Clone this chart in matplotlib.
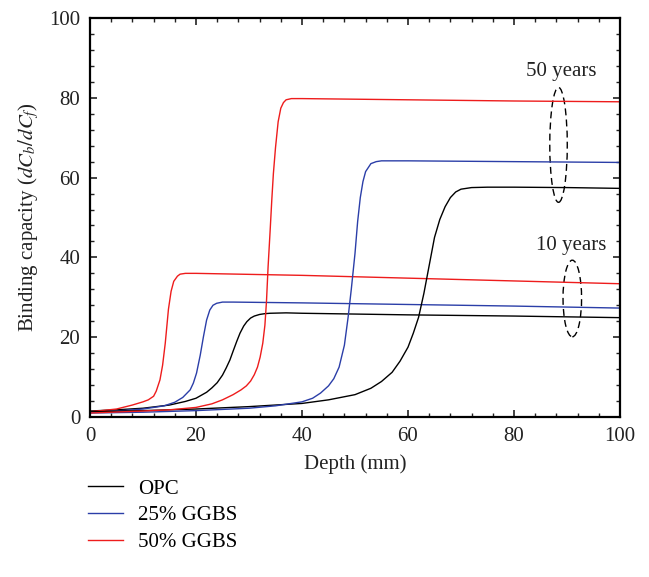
import matplotlib
matplotlib.use("Agg")
import matplotlib.pyplot as plt
from matplotlib.patches import Ellipse
from matplotlib.ticker import MultipleLocator

plt.rcParams['font.family'] = ['Liberation Serif', 'DejaVu Serif']
plt.rcParams['mathtext.fontset'] = 'stix'
plt.rcParams['font.size'] = 15

# 10 years
opc10_d = [0, 5, 10, 15, 18, 20, 22, 23, 24, 25, 25.7, 26.4, 27, 27.7, 28.3, 29, 29.6, 30.3, 31, 32, 33, 34, 37, 40, 60, 80, 100]
opc10_v = [1.5, 1.8, 2.2, 3.0, 3.9, 4.7, 6.2, 7.3, 8.6, 10.5, 12.3, 14.3, 16.5, 19.0, 21.0, 22.8, 23.9, 24.8, 25.3, 25.7, 25.9, 26.0, 26.1, 26.0, 25.6, 25.3, 24.9]
g25_10_d = [0, 5, 10, 14, 16, 17.5, 18.9, 19.5, 20.1, 20.8, 21.4, 22.0, 22.6, 23.2, 23.9, 25, 27, 40, 60, 80, 100]
g25_10_v = [1.2, 1.5, 2.0, 2.8, 3.7, 4.9, 6.8, 8.5, 11.0, 15.5, 20.1, 24.3, 26.8, 28.0, 28.5, 28.8, 28.8, 28.6, 28.2, 27.8, 27.3]
g50_10_d = [0, 5, 8, 10, 11, 12, 12.5, 13.2, 13.7, 14.2, 14.8, 15.3, 15.8, 16.5, 17, 18, 20, 40, 60, 80, 100]
g50_10_v = [1.3, 2.0, 3.0, 3.8, 4.3, 5.2, 6.5, 9.3, 13.0, 18.5, 27.0, 31.5, 34.0, 35.3, 35.8, 36.0, 36.0, 35.5, 34.8, 34.1, 33.4]

# 50 years
opc50_d = [0, 10, 20, 30, 40, 45, 50, 53, 55, 57, 58.5, 60, 61, 62, 63, 64, 65, 66, 67, 68, 69, 70, 72, 75, 80, 90, 100]
opc50_v = [1.3, 1.6, 2.0, 2.6, 3.4, 4.3, 5.6, 7.2, 8.9, 11.2, 14.0, 17.5, 21.0, 25.0, 31.0, 38.0, 45.0, 49.5, 52.7, 55.0, 56.4, 57.1, 57.5, 57.6, 57.6, 57.5, 57.3]
g25_50_d = [0, 10, 20, 30, 35, 40, 42, 43.5, 45, 46, 47, 48, 48.7, 49.3, 50, 50.5, 51, 51.5, 52, 53, 54, 55, 60, 80, 100]
g25_50_v = [1.0, 1.2, 1.6, 2.2, 2.8, 3.8, 4.7, 6.0, 7.8, 9.6, 12.5, 18.0, 25.0, 32.0, 41.0, 49.0, 55.0, 59.0, 61.5, 63.5, 64.0, 64.2, 64.2, 64.0, 63.8]
g50_50_d = [0, 10, 15, 20, 23, 25, 27, 28.5, 29.5, 30.3, 31, 31.6, 32.1, 32.6, 33, 33.3, 33.6, 34, 34.3, 34.6, 35, 35.5, 36, 36.5, 37, 38, 40, 60, 80, 100]
g50_50_v = [1.0, 1.5, 1.8, 2.4, 3.3, 4.3, 5.6, 6.8, 7.8, 9.0, 10.6, 12.5, 15.0, 18.5, 23.0, 29.0, 37.6, 47.0, 54.4, 61.0, 67.5, 74.0, 77.4, 78.8, 79.5, 79.8, 79.8, 79.5, 79.2, 79.0]

labels = ["OPC", "25% GGBS", "50% GGBS"]
colors = ["black", "#2b3ea8", "#ee1c1c"]

fig = plt.figure(figsize=(6.49, 5.77), dpi=100)
ax = fig.add_axes([90/649, 1-417/577, 530/649, 399/577])

lw = 1.0
ax.plot(opc10_d, opc10_v, color=colors[0], lw=lw, label=labels[0])
ax.plot(g25_10_d, g25_10_v, color=colors[1], lw=lw, label=labels[1])
ax.plot(g50_10_d, g50_10_v, color=colors[2], lw=lw, label=labels[2])
ax.plot(opc50_d, opc50_v, color=colors[0], lw=lw)
ax.plot(g25_50_d, g25_50_v, color=colors[1], lw=lw)
ax.plot(g50_50_d, g50_50_v, color=colors[2], lw=lw)

ax.add_patch(Ellipse((88.4, 68.2), 3.3, 28.8, fill=False, ls=(0, (5, 3)), lw=1.0, color='black'))
ax.add_patch(Ellipse((91.0, 29.7), 3.5, 19.2, fill=False, ls=(0, (5, 3)), lw=1.0, color='black'))
ax.text(89.0, 86.7, "50 years", ha='center', va='center', color='#222222')
ax.text(90.8, 43.1, "10 years", ha='center', va='center', color='#222222')

ax.set_xlim(0, 100)
ax.set_ylim(0, 100)
ax.xaxis.set_major_locator(MultipleLocator(20))
ax.yaxis.set_major_locator(MultipleLocator(20))
ax.xaxis.set_minor_locator(MultipleLocator(4))
ax.yaxis.set_minor_locator(MultipleLocator(4))
ax.tick_params(which='both', direction='in', top=True, right=True, colors='#222222', labelcolor='#222222')
ax.tick_params(which='major', length=5, width=1.2, pad=7)
ax.tick_params(which='minor', length=3, width=1.0)
for s in ax.spines.values():
    s.set_linewidth(1.6)

ax.set_xlabel("Depth (mm)", color='#222222', labelpad=6)
ax.set_ylabel("Binding capacity ($dC_b/dC_f$)", color='#222222', labelpad=6)

h, l = ax.get_legend_handles_labels()
fig.legend(h, l, loc='upper left', bbox_to_anchor=(88/649, 1-479/577), frameon=False,
           borderpad=0, borderaxespad=0, handlelength=1.7, handletextpad=0.7, labelspacing=0.35)

fig.savefig("out.png", dpi=100)
